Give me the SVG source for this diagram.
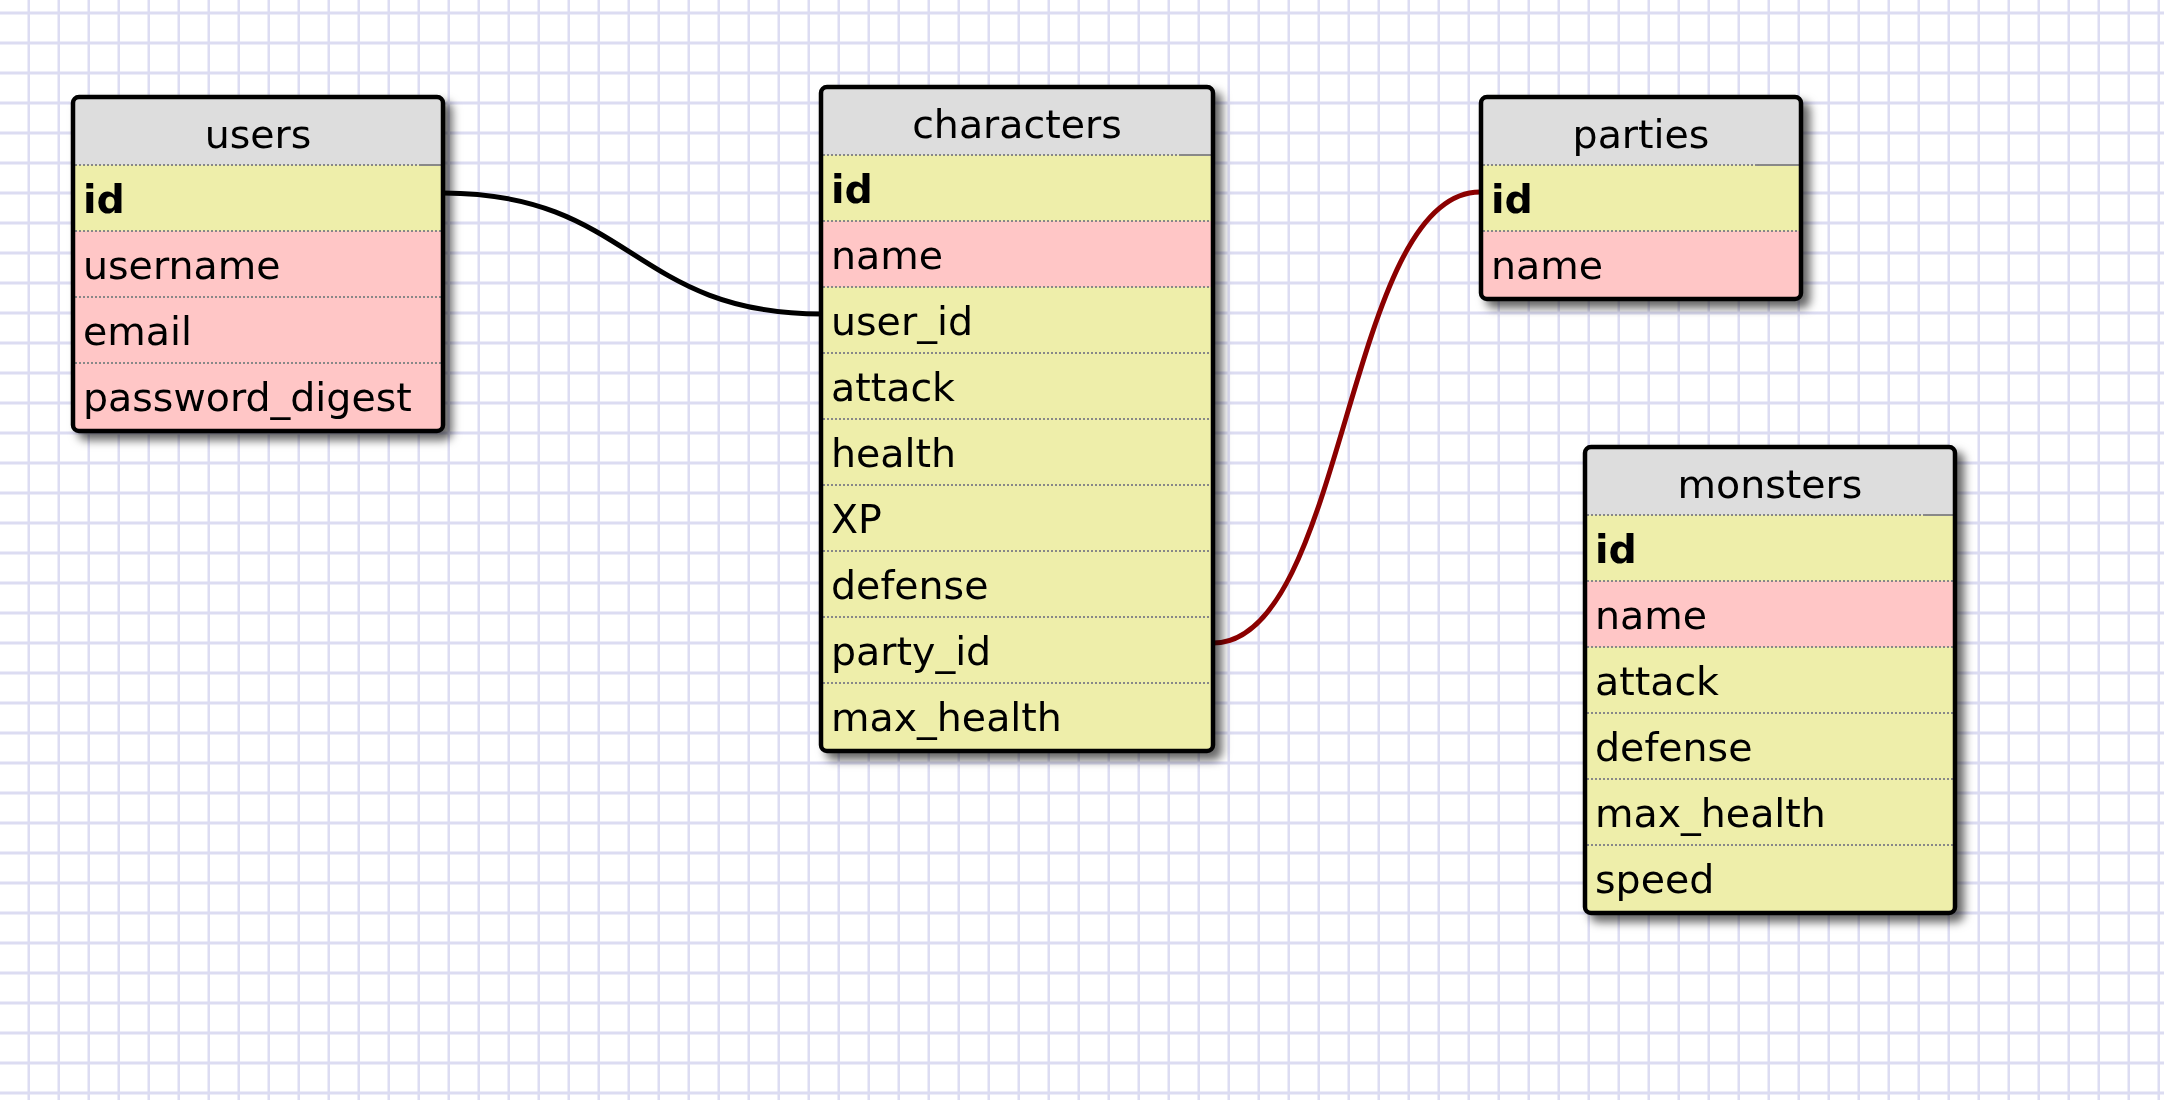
<svg xmlns="http://www.w3.org/2000/svg" width="2164" height="1100" viewBox="0 0 2164 1100">
<style>
text{font-family:"DejaVu Sans","Verdana",sans-serif;font-size:39.5px;fill:#000}
.title{text-anchor:middle}
.pk{font-weight:bold}
.hdr{fill:#dddddd}
.y{fill:#eeeeaa}
.p{fill:#ffc6c6}
.frame{fill:none;stroke:#000;stroke-width:4.5}
.sep{stroke:#888;stroke-width:2;stroke-dasharray:2 2}
.sepS{stroke:#888;stroke-width:2}
.conn{fill:none;stroke-width:5}
</style>
<defs>
<pattern id="grid" x="0" y="0" width="30" height="30" patternUnits="userSpaceOnUse">
<rect width="30" height="30" fill="#ffffff"/>
<line x1="29" y1="0" x2="29" y2="30" stroke="#dcdcf2" stroke-width="3"/>
<line x1="0" y1="13" x2="30" y2="13" stroke="#dcdcf2" stroke-width="3"/>
</pattern>
<filter id="sh" x="-10%" y="-10%" width="130%" height="130%">
<feDropShadow dx="7" dy="7" stdDeviation="5" flood-color="#000" flood-opacity="0.6"/>
</filter>
</defs>
<rect width="2164" height="1100" fill="url(#grid)"/>

<g id="connectors">
<path class="conn" stroke="#000" d="M 443 193 C 632 193, 632 314, 822 314"/>
<path class="conn" stroke="#8b0000" d="M 1213 643 C 1346 643, 1346 192, 1480 192"/>
</g>

<g id="users" filter="url(#sh)">
<rect x="73" y="97" width="370" height="334" rx="6" class="hdr"/>
<rect x="75" y="165" width="366" height="66" class="y"/>
<rect x="75" y="231" width="366" height="198" class="p"/>
<line x1="75" y1="165" x2="421" y2="165" class="sep"/><line x1="421" y1="165" x2="441" y2="165" class="sepS"/>
<line x1="75" y1="231" x2="441" y2="231" class="sep"/>
<line x1="75" y1="297" x2="441" y2="297" class="sep"/>
<line x1="75" y1="363" x2="441" y2="363" class="sep"/>
<rect x="73" y="97" width="370" height="334" rx="6" class="frame"/>
<text x="258" y="148" class="title">users</text>
<text x="83" y="213" class="pk">id</text>
<text x="83" y="279">username</text>
<text x="83" y="345">email</text>
<text x="83" y="411">password_digest</text>
</g>

<g id="characters" filter="url(#sh)">
<rect x="821" y="87" width="392" height="664" rx="6" class="hdr"/>
<rect x="823" y="155" width="388" height="594" class="y"/>
<rect x="823" y="221" width="388" height="66" class="p"/>
<line x1="823" y1="155" x2="1181" y2="155" class="sep"/><line x1="1181" y1="155" x2="1211" y2="155" class="sepS"/>
<line x1="823" y1="221" x2="1211" y2="221" class="sep"/>
<line x1="823" y1="287" x2="1211" y2="287" class="sep"/>
<line x1="823" y1="353" x2="1211" y2="353" class="sep"/>
<line x1="823" y1="419" x2="1211" y2="419" class="sep"/>
<line x1="823" y1="485" x2="1211" y2="485" class="sep"/>
<line x1="823" y1="551" x2="1211" y2="551" class="sep"/>
<line x1="823" y1="617" x2="1211" y2="617" class="sep"/>
<line x1="823" y1="683" x2="1211" y2="683" class="sep"/>
<rect x="821" y="87" width="392" height="664" rx="6" class="frame"/>
<text x="1017" y="138" class="title">characters</text>
<text x="831" y="203" class="pk">id</text>
<text x="831" y="269">name</text>
<text x="831" y="335">user_id</text>
<text x="831" y="401">attack</text>
<text x="831" y="467">health</text>
<text x="831" y="533">XP</text>
<text x="831" y="599">defense</text>
<text x="831" y="665">party_id</text>
<text x="831" y="731">max_health</text>
</g>

<g id="parties" filter="url(#sh)">
<rect x="1481" y="97" width="320" height="202" rx="6" class="hdr"/>
<rect x="1483" y="165" width="316" height="66" class="y"/>
<rect x="1483" y="231" width="316" height="66" class="p"/>
<line x1="1483" y1="165" x2="1757" y2="165" class="sep"/><line x1="1757" y1="165" x2="1799" y2="165" class="sepS"/>
<line x1="1483" y1="231" x2="1799" y2="231" class="sep"/>
<rect x="1481" y="97" width="320" height="202" rx="6" class="frame"/>
<text x="1641" y="148" class="title">parties</text>
<text x="1491" y="213" class="pk">id</text>
<text x="1491" y="279">name</text>
</g>

<g id="monsters" filter="url(#sh)">
<rect x="1585" y="447" width="370" height="466" rx="6" class="hdr"/>
<rect x="1587" y="515" width="366" height="396" class="y"/>
<rect x="1587" y="581" width="366" height="66" class="p"/>
<line x1="1587" y1="515" x2="1925" y2="515" class="sep"/><line x1="1925" y1="515" x2="1953" y2="515" class="sepS"/>
<line x1="1587" y1="581" x2="1953" y2="581" class="sep"/>
<line x1="1587" y1="647" x2="1953" y2="647" class="sep"/>
<line x1="1587" y1="713" x2="1953" y2="713" class="sep"/>
<line x1="1587" y1="779" x2="1953" y2="779" class="sep"/>
<line x1="1587" y1="845" x2="1953" y2="845" class="sep"/>
<rect x="1585" y="447" width="370" height="466" rx="6" class="frame"/>
<text x="1770" y="498" class="title">monsters</text>
<text x="1595" y="563" class="pk">id</text>
<text x="1595" y="629">name</text>
<text x="1595" y="695">attack</text>
<text x="1595" y="761">defense</text>
<text x="1595" y="827">max_health</text>
<text x="1595" y="893">speed</text>
</g>
</svg>
